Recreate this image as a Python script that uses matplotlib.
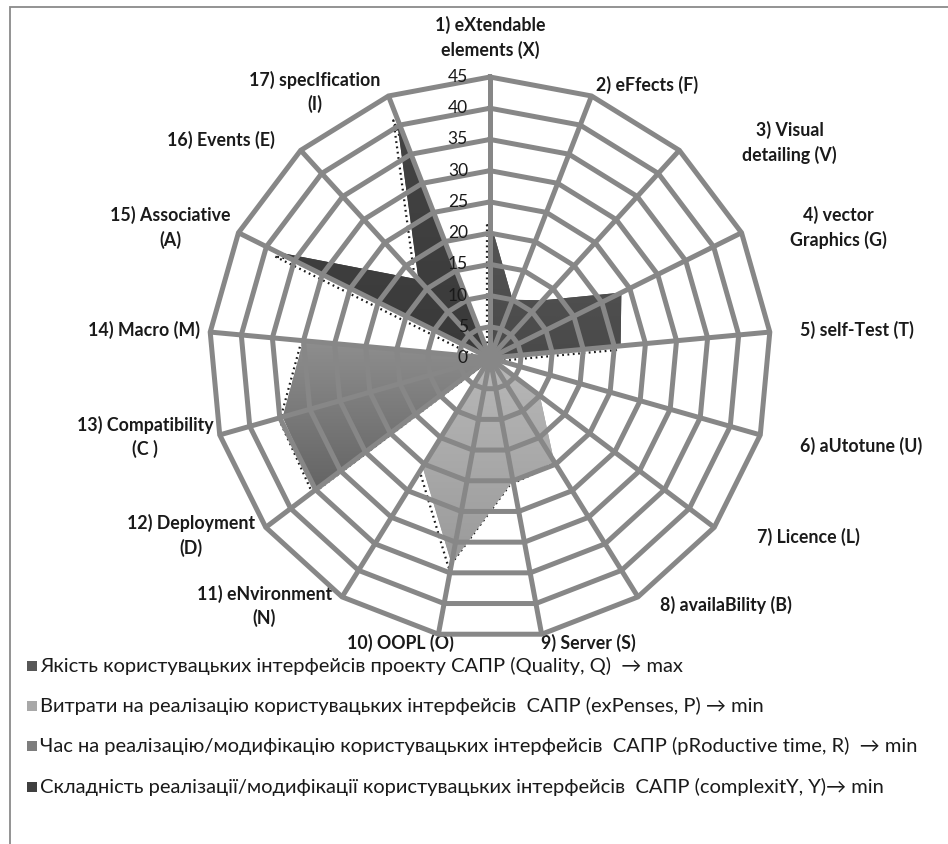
import numpy as np
import matplotlib
matplotlib.use("Agg")
import matplotlib.pyplot as plt
from matplotlib.image import AxesImage
from matplotlib.colors import LinearSegmentedColormap
from matplotlib.patches import Rectangle
from matplotlib import transforms

plt.rcParams['font.family'] = ['Lato', 'Noto Sans', 'DejaVu Sans']

# ---- data -------------------------------------------------------------
categories = [
    "1) eXtendable\nelements (X)", "2) eFfects (F)", "3) Visual\ndetailing (V)",
    "4) vector\nGraphics (G)", "5) self-Test (T)", "6) aUtotune (U)",
    "7) Licence (L)", "8) availaBility (B)", "9) Server (S)", "10) OOPL (O)",
    "11) eNvironment\n(N)", "12) Deployment\n(D)", "13) Compatibility\n(C )",
    "14) Macro (M)", "15) Associative\n(A)", "16) Events (E)",
    "17) specIfication\n(I)",
]
quality    = [22, 10, 12.5, 23.5, 21, 0, 0, 0, 0, 0, 0, 0, 0, 0, 0, 0, 0]
expenses   = [0, 0, 0, 0, 0, 0, 10, 19.5, 20, 33.5, 20.5, 0, 0, 0, 0, 0, 0]
prod_time  = [0, 0, 0, 0, 0, 0, 0, 0, 0, 0, 0, 35, 34.5, 30, 0, 0, 0]
complexity = [0, 0, 0, 0, 0, 0, 0, 0, 0, 0, 0, 0, 0, 0, 38, 17, 41.5]
r_ticks = [0, 5, 10, 15, 20, 25, 30, 35, 40, 45]

series_names = [
    "Якість користувацьких інтерфейсів проекту САПР (Quality, Q)  \u2192 max",
    "Витрати на реалізацію користувацьких інтерфейсів  САПР (exPenses, P) \u2192 min",
    "Час на реалізацію/модифікацію користувацьких інтерфейсів  САПР (pRoductive time, R)  \u2192 min",
    "Складність реалізації/модифікації користувацьких інтерфейсів  САПР (complexitY, Y)\u2192 min",
]
series_values = [quality, expenses, prod_time, complexity]

# ---- styling ----------------------------------------------------------
# (top colour, bottom colour) of each series' gradient fill
series_grad = [("#545454", "#4a4a4a"), ("#b8b8b8", "#9a9a9a"),
               ("#8e8e8e", "#646464"), ("#444444", "#3a3a3a")]
legend_colors = ["#575757", "#a8a8a8", "#7d7d7d", "#404040"]
grid_color = "#878787"

# label offsets (pixels) from the outer ring vertex and horizontal alignment
label_place = [
    (0, -40, 'center'), (4, -11, 'left'), (63, -8, 'left'), (48, -5, 'left'),
    (30, -2, 'left'), (40, 11, 'left'), (43, 10, 'left'), (22, 8, 'left'),
    (-1, 9, 'left'), (16, 9, 'right'), (-10, 9, 'right'), (-11, 8, 'right'),
    (-6, 2, 'right'), (-10, -2, 'right'), (-8, -5, 'right'), (-26, -10, 'right'),
    (-8, -4, 'right'),
]

W, H = 948, 844
fig = plt.figure(figsize=(W / 100, H / 100), dpi=100)
fig.patch.set_facecolor("white")

# chart frame
fig.patches.append(Rectangle((10 / W, -0.05), 1.2, 1 - 7 / H + 0.05,
                             transform=fig.transFigure, fill=False,
                             edgecolor="#8a8a8a", lw=1.3))

cx, cy, rad = 490, 358, 281
ax = fig.add_axes([(cx - rad) / W, (H - cy - rad) / H, 2 * rad / W, 2 * rad / H],
                  projection='polar')
ax.set_theta_zero_location('N')
ax.set_theta_direction(-1)
ax.set_ylim(0, 45)
ax.set_xlim(0, 2 * np.pi)
ax.grid(False)
ax.spines['polar'].set_visible(False)
ax.set_xticks([])
ax.set_yticks([])
ax.patch.set_alpha(0)

n = len(categories)
theta = np.arange(n) * 2 * np.pi / n
theta_c = np.append(theta, theta[0])

to_axes = ax.transData + ax.transAxes.inverted()
shadow = transforms.offset_copy(ax.transData, fig=fig, x=-3, y=-4, units='dots')

for k, (vals, (ctop, cbot)) in enumerate(zip(series_values, series_grad)):
    r = np.append(vals, vals[0])
    # dotted outline slightly offset below the fill
    ax.plot(theta_c, r, transform=shadow, color="#1a1a1a", lw=1.6,
            ls=(0, (0.8, 1.6)), zorder=2 + k * 0.1, clip_on=False)
    poly = ax.fill(theta_c, r, color=cbot, lw=0, zorder=3 + k * 0.1)[0]
    pts = to_axes.transform(np.column_stack([theta_c, r]))
    x0, y0 = pts.min(axis=0)
    x1, y1 = pts.max(axis=0)
    cmap = LinearSegmentedColormap.from_list(f"g{k}", [cbot, ctop])
    im = AxesImage(ax, cmap=cmap, interpolation='bilinear', origin='lower',
                   extent=(x0, x1, y0, y1), transform=ax.transAxes)
    im.set_data(np.linspace(0, 1, 256).reshape(-1, 1))
    im.set_zorder(3.05 + k * 0.1)
    ax.add_image(im)
    im.set_clip_path(poly)

# web grid drawn over the filled areas
for rv in r_ticks[1:]:
    ax.plot(theta_c, np.full(n + 1, rv), color=grid_color, lw=3.6, zorder=5,
            solid_joinstyle='miter', clip_on=False)
for t in theta:
    ax.plot([t, t], [0, 45], color=grid_color, lw=3.6, zorder=5,
            solid_capstyle='butt', clip_on=False)

# radial value labels
for rv in r_ticks:
    ax.annotate(str(rv), xy=(0, rv), xytext=(-22, 0), textcoords='offset pixels',
                ha='right', va='center', fontsize=12.5, color="#1a1a1a",
                zorder=6, annotation_clip=False)

# category labels
for t, lab, (dx, dy, ha) in zip(theta, categories, label_place):
    ax.annotate(lab, xy=(t, 45), xytext=(dx, -dy), textcoords='offset pixels',
                ha=ha, va='center', multialignment='center', fontsize=12.8,
                fontweight='bold', color="#1a1a1a", linespacing=1.45,
                annotation_clip=False)

# legend
rows_y = [666, 706, 746, 787]
for name, col, py in zip(series_names, legend_colors, rows_y):
    fig.patches.append(Rectangle((27 / W, 1 - (py + 5) / H), 10 / W, 10 / H,
                                 transform=fig.transFigure, color=col, lw=0))
    fig.text(40 / W, 1 - py / H, name, ha='left', va='center', fontsize=14.5,
             color="#1a1a1a")

fig.savefig("out.png", dpi=100, facecolor="white")
